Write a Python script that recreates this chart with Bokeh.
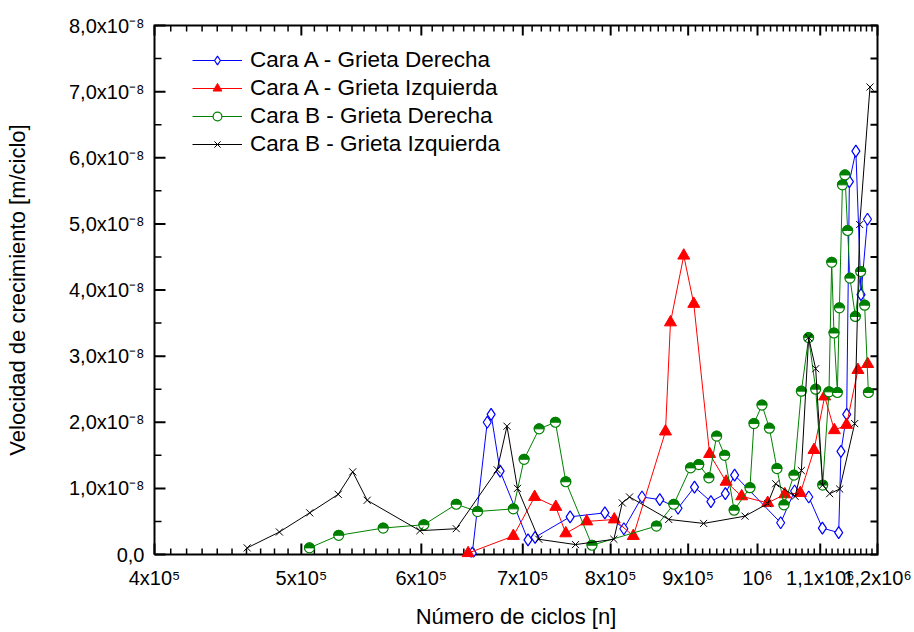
import numpy as np
from bokeh.plotting import figure
from bokeh.models import Range1d, FixedTicker, Legend, LegendItem
from bokeh.embed import file_html
from bokeh.resources import INLINE

# ---------------- data ----------------
blue_x = [648300, 663200, 667100, 676300, 705600, 713200, 752200, 793000, 816200,
          839000, 862000, 886200, 908700, 931600, 952300, 965800, 1035800, 1058000,
          1081000, 1103600, 1131300, 1135200, 1145100, 1149800, 1161200, 1170300, 1181900]
blue_y = [0.02, 2.00, 2.12, 1.26, 0.22, 0.26, 0.57, 0.63, 0.39, 0.87, 0.83, 0.70,
          1.02, 0.80, 0.92, 1.20, 0.48, 0.96, 0.87, 0.40, 0.33, 1.56, 2.12, 5.64,
          6.10, 3.93, 5.07]

red_x = [644200, 690000, 712700, 736000, 747300, 771400, 804400, 828000, 869500,
         876100, 894000, 907700, 929800, 953400, 976200, 1015600, 1042400, 1067200,
         1089600, 1107400, 1123900, 1144800, 1164800, 1182200]
red_y = [0.02, 0.28, 0.87, 0.72, 0.32, 0.50, 0.53, 0.28, 1.86, 3.51, 4.52, 3.79,
         1.52, 1.10, 0.88, 0.78, 0.91, 0.93, 1.58, 2.39, 1.88, 1.96, 2.79, 2.88]

green_x = [506200, 529200, 566200, 602300, 632700, 653500, 690000, 701400, 717600,
           735600, 747300, 777600, 857600, 880500, 903200, 914600, 928800, 939800,
           951300, 965100, 988600, 994600, 1006800, 1018200, 1030000, 1041000,
           1056900, 1068900, 1080800, 1092400, 1104100, 1114700, 1119300, 1123200,
           1129000, 1132500, 1137700, 1142100, 1146800, 1150800, 1160300, 1169700,
           1176800, 1183500]
green_y = [0.10, 0.29, 0.40, 0.45, 0.76, 0.65, 0.69, 1.44, 1.90, 2.00, 1.10, 0.14,
           0.43, 0.76, 1.31, 1.36, 1.16, 1.79, 1.50, 0.67, 1.01, 1.98, 2.26, 1.91,
           1.30, 0.75, 1.20, 2.47, 3.28, 2.50, 1.05, 2.46, 4.42, 3.35, 2.45, 3.73,
           5.59, 5.74, 4.90, 4.18, 3.60, 4.28, 3.77, 2.45]

black_x = [460500, 483600, 506400, 528800, 540600, 552600, 598700, 632700, 673300,
           683400, 694400, 717300, 758400, 803900, 814200, 823300, 873800, 921400,
           981200, 1015600, 1028000, 1058800, 1068900, 1080800, 1092400, 1104100,
           1115900, 1133000, 1159100, 1168000, 1186400]
black_y = [0.10, 0.34, 0.63, 0.91, 1.25, 0.82, 0.36, 0.39, 1.28, 1.94, 1.00, 0.23,
           0.15, 0.23, 0.78, 0.87, 0.53, 0.47, 0.58, 0.77, 1.07, 0.88, 1.27, 3.28,
           2.81, 1.05, 0.92, 0.99, 1.98, 4.99, 7.07]

series_names = ["Cara A - Grieta Derecha", "Cara A - Grieta Izquierda",
                "Cara B - Grieta Derecha", "Cara B - Grieta Izquierda"]

x_ticks = [4e5, 5e5, 6e5, 7e5, 8e5, 9e5, 1e6, 1.1e6, 1.2e6]
x_tick_labels = ["4x10⁵", "5x10⁵", "6x10⁵", "7x10⁵", "8x10⁵", "9x10⁵", "10⁶",
                 "1,1x10⁶", "1,2x10⁶"]
y_ticks = [0, 1e-8, 2e-8, 3e-8, 4e-8, 5e-8, 6e-8, 7e-8, 8e-8]
y_tick_labels = ["0,0", "1,0x10⁻⁸", "2,0x10⁻⁸", "3,0x10⁻⁸", "4,0x10⁻⁸",
                 "5,0x10⁻⁸", "6,0x10⁻⁸", "7,0x10⁻⁸", "8,0x10⁻⁸"]

SCALE = 1e-8
FONT = "Liberation Sans"
X_MIN, X_MAX = 4e5, 1.2e6
Y_MIN, Y_MAX = 0.0, 8e-8

x_minor = [k * 1e4 for k in range(40, 121) if k % 10 != 0]
y_minor = [(k + 0.5) * 1e-8 for k in range(8)]
y_half = sorted(y_ticks + y_minor)

# ---- layout: the drawn box sits PAD pixels inside the Bokeh frame ----
W, H = 914, 632
PAD = 3
BL, BT, BR, BB = 154 - PAD, 25 - PAD, 37 - PAD, 78 - PAD
BOX_W = W - BL - BR - 2 * PAD          # 723 px
BOX_H = H - BT - BB - 2 * PAD          # 529 px
DY = (Y_MAX - Y_MIN) / BOX_H           # data units per pixel (y)
PPD = BOX_W / np.log10(X_MAX / X_MIN)  # pixels per decade (log x)


def xfac(px):
    return 10 ** (px / PPD)


p = figure(width=W, height=H, x_axis_type="log",
           x_range=Range1d(X_MIN / xfac(PAD), X_MAX * xfac(PAD)),
           y_range=Range1d(Y_MIN - PAD * DY, Y_MAX + PAD * DY),
           output_backend="svg", toolbar_location=None,
           min_border_left=BL, min_border_top=BT, min_border_right=BR,
           min_border_bottom=BB)
p.xgrid.grid_line_color = None
p.ygrid.grid_line_color = None
p.outline_line_color = None


def style_axis(ax):
    ax.axis_line_color = None
    ax.major_tick_in = 0
    ax.major_tick_out = 0
    ax.minor_tick_in = 0
    ax.minor_tick_out = 0
    ax.major_tick_line_color = None
    ax.minor_tick_line_color = None
    ax.major_label_text_font = FONT
    ax.major_label_text_font_size = "20px"
    ax.major_label_text_color = "black"
    ax.axis_label_text_font = FONT
    ax.axis_label_text_font_size = "22px"
    ax.axis_label_text_font_style = "normal"
    ax.axis_label_text_color = "black"


xa = p.xaxis[0]
xa.ticker = FixedTicker(ticks=x_ticks, minor_ticks=[])
xa.major_label_overrides = {float(v): s for v, s in zip(x_ticks, x_tick_labels)}
style_axis(xa)
xa.axis_label = "Número de ciclos [n]"
xa.major_label_standoff = 12 - PAD
xa.axis_label_standoff = 12

ya = p.yaxis[0]
ya.ticker = FixedTicker(ticks=y_ticks, minor_ticks=[])
ya.major_label_overrides = {float(v): s for v, s in zip(y_ticks, y_tick_labels)}
style_axis(ya)
ya.axis_label = "Velocidad de crecimiento [m/ciclo]"
ya.major_label_standoff = 10 - PAD
ya.axis_label_standoff = 36

BLUE, RED, GREEN, BLACK = "#0000FF", "#FF0000", "#008000", "#000000"

by = [v * SCALE for v in blue_y]
ry = [v * SCALE for v in red_y]
gy = [v * SCALE for v in green_y]
ky = [v * SCALE for v in black_y]

# ---- frame box and inward ticks, drawn as ordinary lines ----
p.line([X_MIN, X_MAX, X_MAX, X_MIN, X_MIN], [Y_MIN, Y_MIN, Y_MAX, Y_MAX, Y_MIN],
       line_color="black", line_width=2, line_join="miter")


def tick_path(pairs):
    xs, ys = [], []
    for (xa0, ya0), (xa1, ya1) in pairs:
        xs += [xa0, xa1, np.nan]
        ys += [ya0, ya1, np.nan]
    return xs, ys


def vpairs(xs, y_edge, length, sign):
    return [((x, y_edge), (x, y_edge + sign * length * DY)) for x in xs]


def hpairs(ys, x_edge, length, sign):
    x_end = x_edge * xfac(length) if sign > 0 else x_edge / xfac(length)
    return [((x_edge, y), (x_end, y)) for y in ys]


major_pairs = (vpairs(x_ticks, Y_MIN, 11, +1) + vpairs(x_ticks, Y_MAX, 10, -1) +
               hpairs(y_ticks, X_MIN, 11, +1) + hpairs(y_half, X_MAX, 7, -1))
minor_pairs = (vpairs(x_minor, Y_MIN, 6, +1) + vpairs(x_minor, Y_MAX, 6, -1) +
               hpairs(y_minor, X_MIN, 7, +1))
mx, my = tick_path(major_pairs)
p.line(mx, my, line_color="black", line_width=2)
nx, ny = tick_path(minor_pairs)
p.line(nx, ny, line_color="black", line_width=1.5)

# ---- series ----
bl = p.line(blue_x, by, line_color=BLUE, line_width=1)
bm = p.scatter(blue_x, by, marker="diamond", size=12, line_color=BLUE,
               fill_color="white", line_width=1.2)

rl = p.line(red_x, ry, line_color=RED, line_width=1)
rm = p.scatter(red_x, ry, marker="triangle", size=12, line_color=RED,
               fill_color=RED, line_width=1)

gl = p.line(green_x, gy, line_color=GREEN, line_width=1)
gm = p.scatter(green_x, gy, marker="circle", size=10, line_color=GREEN,
               fill_color="white", line_width=1.2)
p.wedge(green_x, gy, radius=5, radius_units="screen", start_angle=0,
        end_angle=np.pi, fill_color=GREEN, line_color=GREEN, line_width=1)

kl = p.line(black_x, ky, line_color=BLACK, line_width=1)
km = p.scatter(black_x, ky, marker="x", size=10, line_color=BLACK, line_width=1)

legend = Legend(items=[
    LegendItem(label=series_names[0], renderers=[bl, bm]),
    LegendItem(label=series_names[1], renderers=[rl, rm]),
    LegendItem(label=series_names[2], renderers=[gl, gm]),
    LegendItem(label=series_names[3], renderers=[kl, km]),
], location=(38 + PAD, 397 + PAD))
legend.label_text_font = FONT
legend.label_text_font_size = "22.5px"
legend.label_text_color = "black"
legend.glyph_width = 50
legend.glyph_height = 22
legend.label_height = 22
legend.spacing = 2
legend.padding = 0
legend.margin = 0
legend.label_standoff = 8
legend.border_line_color = None
legend.background_fill_alpha = 0
p.add_layout(legend)

open("out.html", "w").write(file_html(p, INLINE))
